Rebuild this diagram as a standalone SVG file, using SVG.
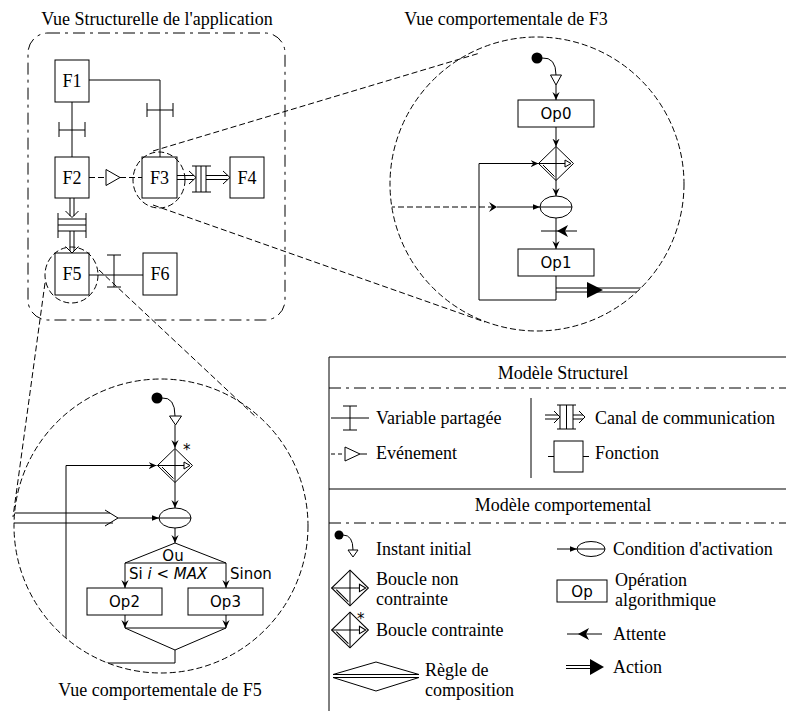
<svg xmlns="http://www.w3.org/2000/svg" width="786" height="711" viewBox="0 0 786 711">
<style>
.ln{fill:none;stroke:#000;stroke-width:1}
.bx{fill:#fff;stroke:#000;stroke-width:1}
.sf{font-family:"Liberation Serif","Times New Roman",serif;font-size:18px;fill:#000}
.ss{font-family:"DejaVu Sans",Verdana,sans-serif;font-size:15px;fill:#000}
.dash{stroke-dasharray:6 3}
.dd{stroke-dasharray:12 5 3 5}
.mid{text-anchor:middle}
.blk{fill:#000;stroke:none}
</style>
<defs>
<marker id="ah" viewBox="0 0 10 10" refX="10" refY="5" markerWidth="8" markerHeight="8" markerUnits="userSpaceOnUse" orient="auto"><path d="M0,0.5 L10,5 L0,9.5 L3.5,5 Z"/></marker>
<marker id="af" viewBox="0 0 10 10" refX="10" refY="5" markerWidth="7" markerHeight="7" markerUnits="userSpaceOnUse" orient="auto"><path d="M0,1 L10,5 L0,9 Z"/></marker>
<g id="loop">
<path class="bx" d="M0,-17 L17.5,0 L0,17 L-17.5,0 Z"/>
<path class="ln" d="M0,-17 V17 M-17.5,0 H9 M-13,1.5 L-1.5,13"/>
<path class="bx" d="M9,-3.5 L15,0 L9,3.5 Z"/>
</g>
<clipPath id="c3"><circle cx="537" cy="184" r="147"/></clipPath>
<clipPath id="c5"><circle cx="161" cy="526" r="147"/></clipPath>
</defs>
<rect width="786" height="711" fill="#fff"/>

<g id="structural-frame">
<text class="sf mid" x="157" y="25">Vue Structurelle de l'application</text>
<rect class="ln dd" x="28" y="33" width="257" height="287" rx="20"/>
</g>

<g id="zoom-lines" class="ln dash">
<path d="M153,151 L480,53"/>
<path d="M153,205 L485,322"/>
<path d="M45,283 L13,517"/>
<path d="M99,270 L257,418"/>
</g>

<g id="connectors">
<path class="ln" d="M89,80 H160 V157"/>
<path class="ln" d="M147,103 V117 M173,103 V117 M147,110 H173"/>
<path class="ln" d="M72,102 V157"/>
<path class="ln" d="M59,122 V137 M85,122 V137 M59,130 H85"/>
<path class="ln dash" d="M89,177.5 H106 M120,177.5 H142"/>
<path class="bx" d="M106,169.5 L120,177.5 L106,185.5 Z"/>
<path class="ln" d="M177,175.5 H194 M177,179.5 H194 M189,171 L196,177.5 L189,184"/>
<path class="ln" d="M196,166 V192 M201,166 V192 M206,166 V192 M192,166 H211 M192,192 H211"/>
<path class="ln" d="M206,175.5 H228 M206,179.5 H228 M223,171 L230,177.5 L223,184"/>
<path class="ln" d="M70,198 V216 M74,198 V216 M65.5,211 L72,217.5 L78.5,211"/>
<path class="ln" d="M58,219 H86 M58,225 H86 M58,231 H86 M58,213 V238 M86,213 V238"/>
<path class="ln" d="M70,231 V251 M74,231 V251 M65.5,246.5 L72,253 L78.5,246.5"/>
<path class="ln" d="M89,275 H143"/>
<path class="ln" d="M114,255 V287 M107,255 H121 M107,287 H121"/>
</g>

<g id="F1"><rect class="bx" x="55" y="60" width="34" height="42"/><text class="sf mid" x="72" y="87">F1</text></g>
<g id="F2"><rect class="bx" x="55" y="157" width="34" height="41"/><text class="sf mid" x="72" y="184">F2</text></g>
<g id="F3"><rect class="bx" x="142" y="157" width="35" height="41"/><text class="sf mid" x="159.5" y="184">F3</text></g>
<g id="F4"><rect class="bx" x="230" y="157" width="34" height="41"/><text class="sf mid" x="247" y="184">F4</text></g>
<g id="F5"><rect class="bx" x="55" y="253" width="34" height="42"/><text class="sf mid" x="72" y="280">F5</text></g>
<g id="F6"><rect class="bx" x="143" y="253" width="34" height="42"/><text class="sf mid" x="160" y="280">F6</text></g>

<g id="zoom-marks" class="ln dash">
<ellipse cx="159" cy="180" rx="26" ry="28"/>
<ellipse cx="71.5" cy="275" rx="26.5" ry="28"/>
</g>

<g id="F3-view">
<text class="sf mid" x="506" y="25">Vue comportementale de F3</text>
<circle class="ln dash" cx="537" cy="184" r="147"/>
<circle class="blk" cx="537" cy="58" r="5.5"/>
<path class="ln" d="M542,58 Q556,57 556,75"/>
<path class="bx" d="M550.5,75 H561.5 L556,85 Z"/>
<path class="ln" d="M556,85 V100" marker-end="url(#ah)"/>
<rect class="bx" x="518" y="100" width="76" height="27"/>
<text class="ss mid" x="556" y="119">Op0</text>
<path class="ln" d="M556,127 V146.5" marker-end="url(#ah)"/>
<use href="#loop" x="556" y="163.5"/>
<path class="ln" d="M556,180.5 V196" marker-end="url(#ah)"/>
<ellipse class="bx" cx="556" cy="207" rx="16" ry="11"/>
<path class="ln" d="M540,207 H572"/>
<path class="ln" d="M556,218 V249" marker-end="url(#ah)"/>
<path class="ln" d="M541,231 H577"/>
<path class="blk" d="M568,225 L557,231 L568,237 L565,231 Z"/>
<rect class="bx" x="518" y="249" width="76" height="27"/>
<text class="ss mid" x="556" y="268">Op1</text>
<g clip-path="url(#c3)">
<path class="ln" d="M556,276 V300 H479 V163.5 H538.5" marker-end="url(#ah)"/>
<path class="ln dash" d="M380,207 H493"/>
<path class="blk" d="M489,202 L497,207 L489,212 L492,207 Z"/>
<path class="ln" d="M497,207 H540" marker-end="url(#af)"/>
<path class="ln" d="M556,288 H700 M556,292 H700"/>
</g>
<path class="blk" d="M587,282 L603,290 L587,298 Z"/>
</g>

<g id="F5-view">
<text class="sf mid" x="160" y="696">Vue comportementale de F5</text>
<circle class="ln dash" cx="161" cy="526" r="147"/>
<circle class="blk" cx="157" cy="398" r="5.5"/>
<path class="ln" d="M162,398 Q175,397 175,416"/>
<path class="bx" d="M169.5,416 H181.5 L175.5,425 Z"/>
<path class="ln" d="M175,425 V448" marker-end="url(#ah)"/>
<use href="#loop" x="175" y="465.5"/>
<text class="ss" x="183" y="455" font-size="14">*</text>
<path class="ln" d="M175,482.5 V508" marker-end="url(#ah)"/>
<ellipse class="bx" cx="175" cy="518" rx="16" ry="10"/>
<path class="ln" d="M159,518 H191"/>
<path class="ln" d="M175,528 V543" marker-end="url(#ah)"/>
<path class="ln" d="M125,563 L175,543 L226,563 Z"/>
<text class="ss mid" x="173" y="561">Ou</text>
<path class="ln" d="M125,563 V588" marker-end="url(#ah)"/>
<path class="ln" d="M226,563 V588" marker-end="url(#ah)"/>
<text class="ss" x="129" y="579">Si <tspan font-style="italic">i</tspan> &lt; <tspan font-style="italic">MAX</tspan></text>
<text class="ss" x="230" y="579">Sinon</text>
<rect class="bx" x="87" y="588" width="75" height="27"/>
<text class="ss mid" x="124.5" y="607">Op2</text>
<rect class="bx" x="188" y="588" width="75" height="27"/>
<text class="ss mid" x="225.5" y="607">Op3</text>
<path class="ln" d="M125,615 V628" marker-end="url(#ah)"/>
<path class="ln" d="M226,615 V628" marker-end="url(#ah)"/>
<path class="ln" d="M125,628 H226 L175,650 Z"/>
<g clip-path="url(#c5)">
<path class="ln" d="M175,650 V663 H66 V465.5 H156.5" marker-end="url(#ah)"/>
<path class="ln" d="M0,513 H110 M0,523 H113"/>
<path class="ln" d="M105,510 L118,518 L105,526"/>
<path class="ln" d="M118,518 H159" marker-end="url(#af)"/>
</g>
</g>

<g id="legend">
<path class="ln" d="M329,711 V357 H786"/>
<text class="sf mid" x="563" y="379">Modèle Structurel</text>
<path class="ln dd" d="M329,388 H786"/>
<path class="ln" d="M531,398 V478"/>
<path class="ln" d="M329,489 H786"/>
<text class="sf mid" x="563" y="511">Modèle comportemental</text>
<path class="ln dd" d="M329,523 H786"/>

<path class="ln" d="M331,418 H369 M350,406 V430 M343,406 H357 M343,430 H357"/>
<text class="sf" x="376" y="424">Variable partagée</text>
<path class="ln dash" d="M331,454 H345" style="stroke-dasharray:4 3"/>
<path class="bx" d="M345,447 L360,454 L345,461 Z"/>
<path class="ln" d="M360,454 H367"/>
<text class="sf" x="376" y="459">Evénement</text>

<path class="ln" d="M545,415 H558 M545,419 H558 M554,411 L560,417 L554,423"/>
<path class="ln" d="M560,405 V429 M566.5,405 V429 M573,405 V429 M557,405 H576 M557,429 H576"/>
<path class="ln" d="M573,415 H583 M573,419 H583 M579,411 L585,417 L579,423"/>
<text class="sf" x="595" y="424">Canal de communication</text>
<rect class="bx" x="554" y="441" width="29" height="31"/>
<path class="ln" d="M548,456.5 H554 M583,456.5 H589"/>
<text class="sf" x="595" y="459">Fonction</text>

<circle class="blk" cx="339" cy="535" r="4.5"/>
<path class="ln" d="M343,535 Q353,535 353,550"/>
<path class="bx" d="M348,550 H358 L353,557 Z"/>
<text class="sf" x="376" y="555">Instant initial</text>
<use href="#loop" transform="translate(350,588) scale(1.05)"/>
<text class="sf" x="376" y="585">Boucle non</text>
<text class="sf" x="376" y="605">contrainte</text>
<use href="#loop" transform="translate(350,630) scale(1.05)"/>
<text class="ss" x="357" y="624" font-size="13">*</text>
<text class="sf" x="376" y="636">Boucle contrainte</text>
<path class="ln" d="M333,674.5 L376,662 L419,674.5 Z M333,677.5 L376,691 L419,677.5 Z"/>
<text class="sf" x="425" y="676">Règle de</text>
<text class="sf" x="425" y="696">composition</text>

<path class="ln" d="M557,549 H577" marker-end="url(#af)"/>
<ellipse class="bx" cx="591" cy="549" rx="14" ry="7.5"/>
<path class="ln" d="M577,549 H605"/>
<text class="sf" x="613" y="555">Condition d'activation</text>
<rect class="bx" x="557" y="580" width="50" height="22"/>
<text class="ss mid" x="582" y="597">Op</text>
<text class="sf" x="615" y="586">Opération</text>
<text class="sf" x="615" y="606">algorithmique</text>
<path class="ln" d="M567,634 H602"/>
<path class="blk" d="M589,628 L578,634 L589,640 L586,634 Z"/>
<text class="sf" x="613" y="640">Attente</text>
<path class="ln" d="M566,665.5 H592 M566,668.5 H592"/>
<path class="blk" d="M590,659 L604,667 L590,675 Z"/>
<text class="sf" x="613" y="673">Action</text>
</g>
</svg>
